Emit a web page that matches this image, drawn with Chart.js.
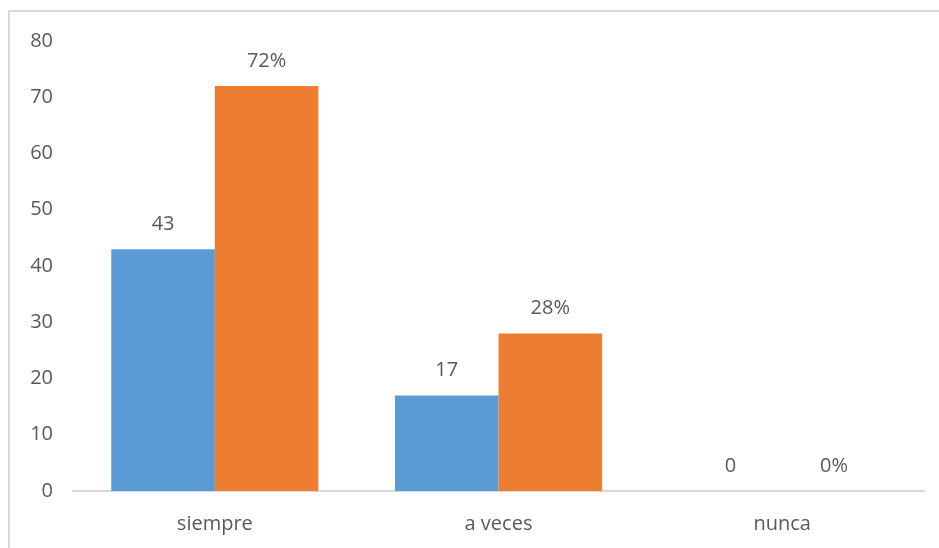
<!DOCTYPE html>
<html>
<head>
<meta charset="utf-8">
<script src="https://cdn.jsdelivr.net/npm/chart.js@4"></script>
<style>
html,body{margin:0;padding:0;background:#fff;}
#wrap{position:relative;width:939px;height:548px;overflow:hidden;}
#frame{position:absolute;left:8px;top:10px;width:1000px;height:600px;border:2px solid #d9d9d9;box-sizing:border-box;}
#chart{position:absolute;left:0;top:0;}
</style>
</head>
<body>
<div id="wrap">
<div id="frame"></div>
<canvas id="chart" width="939" height="548"></canvas>
</div>
<script>
let categories=["siempre","a veces","nunca"]
let counts=[43,17,0]
let percents=[72,28,0]

let fontFam="'Open Sans', 'Liberation Sans', sans-serif"
let textColor="#595959"

// numbers above each bar
let barLabels={
id:"barLabels",
afterDatasetsDraw(chart){
let ctx=chart.ctx
ctx.save()
ctx.font="20px "+fontFam
ctx.fillStyle=textColor
ctx.textAlign="center"
ctx.textBaseline="middle"
chart.data.datasets.forEach((ds,i)=>{
let meta=chart.getDatasetMeta(i)
meta.data.forEach((bar,j)=>{
let txt=i==0 ? String(ds.data[j]) : ds.data[j]+"%"
ctx.fillText(txt,bar.x,bar.y-25)
})
})
ctx.restore()
}
}

let ctx=document.getElementById("chart").getContext("2d")

new Chart(ctx,{
type:"bar",
data:{
labels:categories,
datasets:[{
label:"frecuencia",
data:counts,
backgroundColor:"#5b9bd5"
},{
label:"porcentaje",
data:percents,
backgroundColor:"#ed7d31"
}]
},
options:{
responsive:false,
animation:false,
layout:{padding:{top:41,right:15,left:0,bottom:0}},
plugins:{legend:{display:false},tooltip:{enabled:false}},
datasets:{bar:{categoryPercentage:0.73,barPercentage:1}},
scales:{
x:{
grid:{display:false,drawTicks:false},
border:{color:"#d9d9d9",width:2},
ticks:{color:textColor,font:{family:fontFam,size:20},padding:21},
afterFit(s){s.height=548-491}
},
y:{
min:0,max:80,
ticks:{stepSize:10,color:textColor,font:{family:fontFam,size:20},padding:20},
grid:{display:false,drawTicks:false},
border:{display:false},
afterFit(s){s.width=73}
}
}
},
plugins:[barLabels]
})
</script>
</body>
</html>
